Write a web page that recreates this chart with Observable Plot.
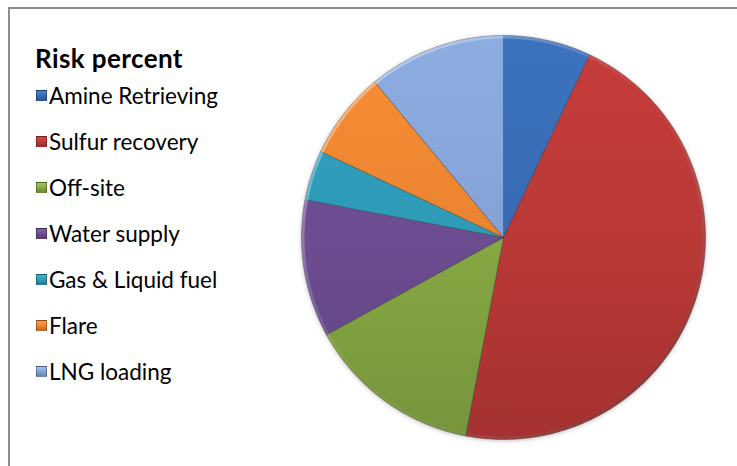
<!DOCTYPE html>
<html>
<head>
<meta charset="utf-8">
<script src="https://cdn.jsdelivr.net/npm/d3@7"></script>
<script src="https://cdn.jsdelivr.net/npm/@observablehq/plot@0.6"></script>
<style>
  html, body { margin: 0; padding: 0; background: #fff; }
  #chart { position: relative; width: 737px; height: 466px; overflow: hidden; font-family: Lato, "Open Sans", sans-serif; color: #000; }
  #frame { position: absolute; left: 8px; top: 7px; width: 900px; height: 700px; border-left: 2px solid #8e8e8e; border-top: 2px solid #8e8e8e; }
  #legend { position: absolute; left: 35px; top: 0; }
  .title { position: absolute; left: 0; top: 43px; font-weight: bold; font-size: 26px; letter-spacing: 0.4px; white-space: nowrap; line-height: 30px; }
  .item { position: absolute; left: 1px; height: 28px; line-height: 28px; font-size: 22.5px; white-space: nowrap; display: flex; align-items: center; }
  .sw { width: 9px; height: 9px; margin-right: 2px; border: 1px solid rgba(0,0,0,0.3); }
  #pie { position: absolute; left: 293px; top: 27px; filter: drop-shadow(0px 1px 2px rgba(0,0,0,0.25)); }
</style>
</head>
<body>
<div id="chart">
  <div id="frame"></div>
  <div id="legend"></div>
  <div id="pie"></div>
</div>
<script>
// ---- data ----
const legendTitle = "Risk percent";
const categories = ["Amine Retrieving", "Sulfur recovery", "Off-site", "Water supply", "Gas & Liquid fuel", "Flare", "LNG loading"];
const riskPercent = [7, 46, 14, 11, 4, 7, 11];
const sliceColors = ["#386bb2", "#ba3936", "#86a843", "#6c4d91", "#2e9ab6", "#ea8431", "#84a2d4"];

// ---- build table ----
const data = categories.map((name, i) => ({ name, value: riskPercent[i], color: sliceColors[i], idx: i }));

// ---- legend (HTML) ----
const legend = document.getElementById("legend");
const t = document.createElement("div");
t.className = "title";
t.textContent = legendTitle;
legend.appendChild(t);
data.forEach((d, i) => {
  const it = document.createElement("div");
  it.className = "item";
  it.style.top = (81.5 + 46 * i) + "px";
  const sw = document.createElement("span");
  sw.className = "sw";
  const c = d3.color(d.color);
  sw.style.background = `linear-gradient(to bottom, ${c.brighter(0.5)} 0%, ${c} 55%, ${c.darker(0.6)} 100%)`;
  it.appendChild(sw);
  const lab = document.createElement("span");
  lab.textContent = d.name;
  it.appendChild(lab);
  legend.appendChild(it);
});

// ---- pie geometry from values ----
const size = 420;
const R = 202;
const arcs = d3.pie().sort(null).value(d => d.value)(data);
const pts = [];
const rim = [];
arcs.forEach(a => {
  const name = a.data.name;
  const n = Math.max(2, Math.ceil((a.endAngle - a.startAngle) / (Math.PI / 180)));
  pts.push({ name, px: 0, py: 0 });
  for (let k = 0; k <= n; k++) {
    const ang = a.startAngle + (a.endAngle - a.startAngle) * k / n;
    pts.push({ name, px: R * Math.sin(ang), py: R * Math.cos(ang) });
    rim.push({ px: (R - 1.5) * Math.sin(ang), py: (R - 1.5) * Math.cos(ang) });
  }
  pts.push({ name, px: 0, py: 0 });
});

const plot = Plot.plot({
  width: size,
  height: size,
  margin: 0,
  x: { domain: [-size / 2, size / 2], axis: null },
  y: { domain: [-size / 2, size / 2], axis: null },
  color: { domain: categories, range: categories.map((_, i) => `url(#grad${i})`) },
  marks: [
    Plot.line(pts, { x: "px", y: "py", z: "name", fill: "name", stroke: "#2a2a2a", strokeOpacity: 0.35, strokeWidth: 1, curve: "linear" }),
    Plot.line(rim, { x: "px", y: "py", stroke: "url(#rimgrad)", strokeWidth: 3, curve: "linear" })
  ]
});

const svg = d3.select(plot);
svg.style("overflow", "visible");
const defs = svg.insert("defs", ":first-child");
data.forEach((d, i) => {
  const c = d3.color(d.color);
  const g = defs.append("linearGradient")
    .attr("id", "grad" + i)
    .attr("gradientUnits", "userSpaceOnUse")
    .attr("x1", 0).attr("y1", size / 2 - R)
    .attr("x2", 0).attr("y2", size / 2 + R);
  g.append("stop").attr("offset", "0%").attr("stop-color", c.brighter(0.18).formatHex());
  g.append("stop").attr("offset", "50%").attr("stop-color", c.formatHex());
  g.append("stop").attr("offset", "100%").attr("stop-color", c.darker(0.35).formatHex());
});
const rg = defs.append("linearGradient")
  .attr("id", "rimgrad")
  .attr("gradientUnits", "userSpaceOnUse")
  .attr("x1", size / 2 - R).attr("y1", size / 2 - R)
  .attr("x2", size / 2 + R).attr("y2", size / 2 + R);
rg.append("stop").attr("offset", "0%").attr("stop-color", "#ffffff").attr("stop-opacity", 0.5);
rg.append("stop").attr("offset", "50%").attr("stop-color", "#ffffff").attr("stop-opacity", 0.0);
rg.append("stop").attr("offset", "100%").attr("stop-color", "#000000").attr("stop-opacity", 0.4);

document.getElementById("pie").appendChild(plot);
</script>
</body>
</html>
